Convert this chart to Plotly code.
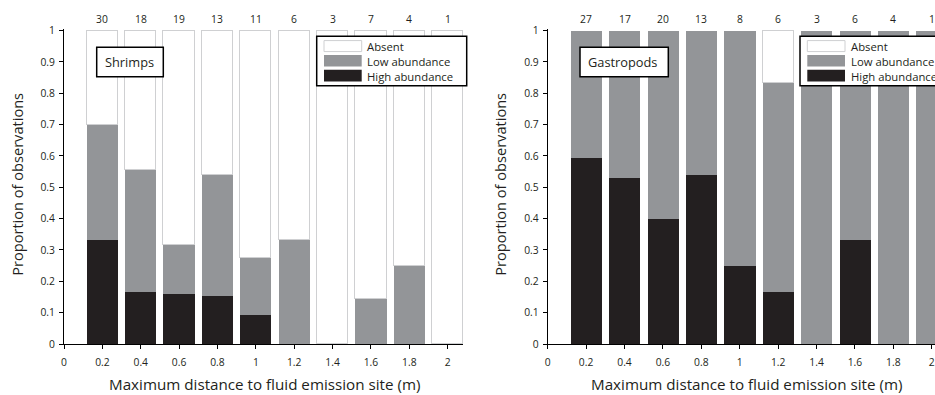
import plotly.graph_objects as go

# ---------------- data ----------------
distances = [0.2, 0.4, 0.6, 0.8, 1.0, 1.2, 1.4, 1.6, 1.8, 2.0]
tick_vals = [0, 0.2, 0.4, 0.6, 0.8, 1.0, 1.2, 1.4, 1.6, 1.8, 2.0]
tick_text = ["0", "0.2", "0.4", "0.6", "0.8", "1", "1.2", "1.4", "1.6", "1.8", "2"]
y_tick_vals = [0, 0.1, 0.2, 0.3, 0.4, 0.5, 0.6, 0.7, 0.8, 0.9, 1.0]
y_tick_text = ["0", "0.1", "0.2", "0.3", "0.4", "0.5", "0.6", "0.7", "0.8", "0.9", "1"]

shrimp_n = [30, 18, 19, 13, 11, 6, 3, 7, 4, 1]
shrimp_high = [0.333, 0.167, 0.158, 0.154, 0.091, 0, 0, 0, 0, 0]
shrimp_low = [0.367, 0.389, 0.158, 0.385, 0.182, 0.333, 0, 0.143, 0.25, 0]
shrimp_absent = [0.300, 0.444, 0.684, 0.461, 0.727, 0.667, 1.0, 0.857, 0.75, 1.0]

gastro_n = [27, 17, 20, 13, 8, 6, 3, 6, 4, 1]
gastro_high = [0.593, 0.529, 0.400, 0.538, 0.25, 0.167, 0, 0.333, 0, 0]
gastro_low = [0.407, 0.471, 0.600, 0.462, 0.75, 0.666, 1.0, 0.667, 1.0, 1.0]
gastro_absent = [0, 0, 0, 0, 0, 0.167, 0, 0, 0, 0]

series_names = ["Absent", "Low abundance", "High abundance"]
panel_labels = ["Shrimps", "Gastropods"]

# ---------------- style ----------------
W, H = 935, 395
C_HIGH = "#231f20"
C_LOW = "#939598"
C_ABS_LINE = "#cfd0d2"
TXT = "#231f20"
FONT = "Open Sans"
BAR_W = 0.163

M_T, M_B = 29.1, 50.7
PLOT_H = H - M_T - M_B
Y0_PX = H - M_B


def px_x(x):
    return x / W


def px_y(y):
    return (Y0_PX - y) / PLOT_H


fig = go.Figure()

panels = [
    ("x", "y", shrimp_high, shrimp_low, shrimp_absent),
    ("x2", "y2", gastro_high, gastro_low, gastro_absent),
]
for xa, ya, hi, lo, ab in panels:
    fig.add_trace(go.Bar(x=distances, y=hi, xaxis=xa, yaxis=ya, width=BAR_W,
                         marker=dict(color=C_HIGH, line=dict(width=0)),
                         name=series_names[2], showlegend=False))
    fig.add_trace(go.Bar(x=distances, y=lo, xaxis=xa, yaxis=ya, width=BAR_W,
                         marker=dict(color=C_LOW, line=dict(width=0)),
                         name=series_names[1], showlegend=False))
    fig.add_trace(go.Bar(x=distances, y=[v if v > 0 else None for v in ab],
                         xaxis=xa, yaxis=ya, width=BAR_W,
                         marker=dict(color="white", line=dict(width=1, color=C_ABS_LINE)),
                         name=series_names[0], showlegend=False))

axis_common = dict(showgrid=False, zeroline=False, showline=True, linecolor="black",
                   linewidth=1, ticks="outside", ticklen=4, tickcolor="black",
                   tickfont=dict(family=FONT, size=10.3, color=TXT))

fig.update_layout(
    width=W, height=H, barmode="stack", bargap=0,
    paper_bgcolor="white", plot_bgcolor="white",
    margin=dict(l=0, r=0, t=M_T, b=M_B, autoexpand=False),
    showlegend=False,
    xaxis=dict(domain=[64 / W, 463 / W], range=[0, 2.08], anchor="y",
               tickvals=tick_vals, ticktext=tick_text, ticklabelstandoff=5, **axis_common),
    yaxis=dict(domain=[0, 1], range=[0, 1.005], anchor="x",
               tickvals=y_tick_vals, ticktext=y_tick_text, ticklabelstandoff=2, **axis_common),
    xaxis2=dict(domain=[547.7 / W, 1], range=[0, 2.017], anchor="y2",
                tickvals=tick_vals, ticktext=tick_text, ticklabelstandoff=5, **axis_common),
    yaxis2=dict(domain=[0, 1], range=[0, 1.005], anchor="x2",
                tickvals=y_tick_vals, ticktext=y_tick_text, ticklabelstandoff=2, **axis_common),
)

annotations = []
shapes = []

# counts above bars
for xa, counts in (("x", shrimp_n), ("x2", gastro_n)):
    for d, n in zip(distances, counts):
        annotations.append(dict(x=d, y=px_y(19), xref=xa, yref="paper", text=str(n),
                                showarrow=False, font=dict(family=FONT, size=10.3, color=TXT),
                                xanchor="center", yanchor="middle"))

# axis titles
for cx in (264.5, 746):
    annotations.append(dict(x=px_x(cx), y=px_y(384.5), xref="paper", yref="paper",
                            text="Maximum distance to fluid emission site (m)", showarrow=False,
                            font=dict(family=FONT, size=15.2, color=TXT),
                            xanchor="center", yanchor="middle"))
for cx in (17, 500):
    annotations.append(dict(x=px_x(cx), y=px_y(185), xref="paper", yref="paper",
                            text="Proportion of observations", showarrow=False, textangle=-90,
                            font=dict(family=FONT, size=14.6, color=TXT),
                            xanchor="center", yanchor="middle"))

# panel labels
for (bx0, bx1), label in zip([(96.7, 163.3), (580, 668.3)], panel_labels):
    shapes.append(dict(type="rect", xref="paper", yref="paper",
                       x0=px_x(bx0), x1=px_x(bx1), y0=px_y(47.3), y1=px_y(77),
                       line=dict(color="black", width=1.5), fillcolor="white", layer="above"))
    annotations.append(dict(x=px_x(bx0 + 6.3), y=px_y(62), xref="paper", yref="paper",
                            text=label, showarrow=False, xanchor="left", yanchor="middle",
                            font=dict(family=FONT, size=12.8, color=TXT)))

# manual legends
swatch_styles = [
    dict(fillcolor="white", line=dict(color=C_ABS_LINE, width=1)),
    dict(fillcolor=C_LOW, line=dict(color=C_LOW, width=0)),
    dict(fillcolor=C_HIGH, line=dict(color=C_HIGH, width=0)),
]
rows = [(40.7, 51.7), (55, 66.7), (70, 81.7)]
for lx0, lx1 in [(316.7, 466.7), (800, 960)]:
    shapes.append(dict(type="rect", xref="paper", yref="paper",
                       x0=px_x(lx0), x1=px_x(lx1), y0=px_y(36.3), y1=px_y(85.8),
                       line=dict(color="black", width=1.5), fillcolor="white", layer="above"))
    for (ry0, ry1), st, name in zip(rows, swatch_styles, series_names):
        shapes.append(dict(type="rect", xref="paper", yref="paper",
                           x0=px_x(lx0 + 7.3), x1=px_x(lx0 + 45), y0=px_y(ry1), y1=px_y(ry0),
                           layer="above", **st))
        annotations.append(dict(x=px_x(lx0 + 48.5), y=px_y((ry0 + ry1) / 2 + 0.5), xref="paper",
                                yref="paper", text=name, showarrow=False, xanchor="left",
                                yanchor="middle", font=dict(family=FONT, size=11.3, color=TXT)))

fig.update_layout(annotations=annotations, shapes=shapes)
fig.write_html("out.html")
